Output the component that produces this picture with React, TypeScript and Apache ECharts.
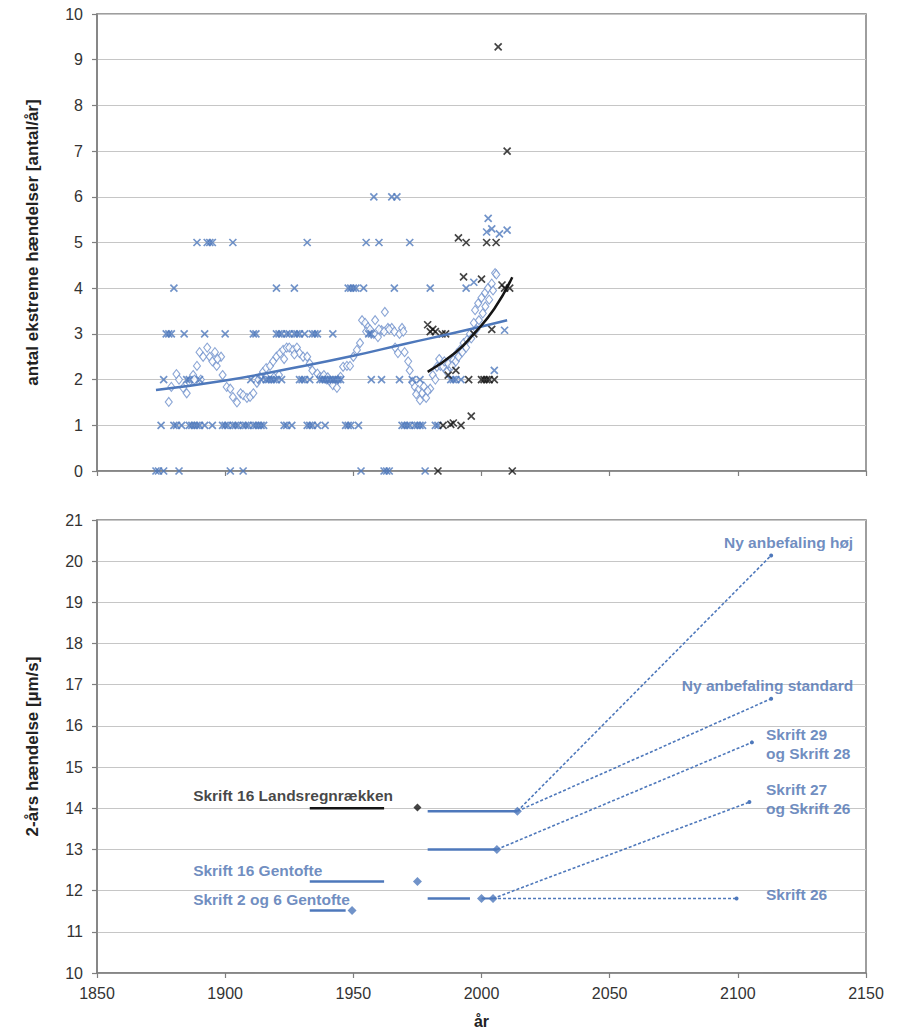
import React, { useEffect, useRef } from "react";
import * as echarts from "echarts";

// ---------- top panel data ----------
const blueEvents: [number, number][] = [
  [1873, 0], [1874, 0], [1876, 0], [1882, 0], [1902, 0], [1907, 0], [1953, 0], [1962, 0], [1963, 0], [1964, 0], [1978, 0],
  [1875, 1], [1880, 1], [1881, 1], [1883, 1], [1886, 1], [1887, 1], [1888, 1], [1889, 1], [1890, 1], [1892, 1], [1895, 1],
  [1899, 1], [1900, 1], [1901, 1], [1903, 1], [1904, 1], [1905, 1], [1907, 1], [1908, 1], [1909, 1], [1911, 1], [1912, 1],
  [1913, 1], [1914, 1], [1915, 1], [1923, 1], [1924, 1], [1926, 1], [1932, 1], [1933, 1], [1934, 1], [1936, 1], [1939, 1],
  [1947, 1], [1948, 1], [1949, 1], [1952, 1], [1969, 1], [1970, 1], [1971, 1], [1972, 1], [1974, 1], [1975, 1], [1976, 1],
  [1977, 1], [1982, 1], [1983, 1],
  [1876, 2], [1885, 2], [1886, 2], [1890, 2], [1910, 2], [1914, 2], [1916, 2], [1917, 2], [1918, 2], [1919, 2], [1920, 2],
  [1922, 2], [1929, 2], [1930, 2], [1931, 2], [1933, 2], [1937, 2], [1938, 2], [1939, 2], [1940, 2], [1941, 2], [1942, 2],
  [1943, 2], [1944, 2], [1945, 2], [1957, 2], [1961, 2], [1968, 2], [1973, 2], [1976, 2], [1988, 2], [1989, 2], [1990, 2],
  [1992, 2], [2005, 2.2],
  [1877, 3], [1878, 3], [1879, 3], [1884, 3], [1892, 3], [1900, 3], [1911, 3], [1912, 3], [1920, 3], [1921, 3], [1922, 3],
  [1924, 3], [1925, 3], [1927, 3], [1928, 3], [1929, 3], [1931, 3], [1934, 3], [1935, 3], [1936, 3], [1942, 3], [1956, 3],
  [1957, 3], [2009, 3.08],
  [1880, 4], [1920, 4], [1927, 4], [1948, 4], [1949, 4], [1950, 4], [1951, 4], [1954, 4], [1966, 4], [1980, 4], [1994, 4],
  [1997, 4.13],
  [1889, 5], [1893, 5], [1894, 5], [1895, 5], [1903, 5], [1932, 5], [1955, 5], [1960, 5], [1972, 5],
  [2002.6, 5.53], [2002, 5.23], [2004, 5.3], [2007, 5.19], [2010, 5.27],
  [1958, 6], [1965, 6], [1967, 6],
];

const blackEvents: [number, number][] = [
  [1983, 0], [2012, 0],
  [1985, 1.0], [1988, 1.02], [1989, 1.05], [1992, 1.0], [1996, 1.2],
  [1987, 2.1], [1990, 2.2], [1995, 2.0], [2000, 2.0], [2001, 2.0], [2002, 2.0], [2003, 2.0], [2005, 2.0],
  [1979, 3.2], [1980, 3.05], [1981, 3.1], [1982, 3.05], [1984.6, 3.0], [1986, 3.0], [1997, 3.0], [2004, 3.1],
  [1993, 4.25], [2000, 4.2], [2008, 4.07], [2009, 4.0], [2011, 4.0],
  [1991, 5.1], [1994, 5.0], [2002, 5.0], [2005.7, 5.0],
  [2010, 7.0], [2006.5, 9.28],
];

const smoothedPoints: [number, number][] = [
  [1878, 1.51], [1879, 1.84], [1881, 2.12], [1882, 2.0], [1883.6, 1.82], [1885, 1.7], [1886, 1.95], [1887.5, 2.1],
  [1889, 2.3], [1890, 2.6], [1891.4, 2.5], [1893, 2.7], [1894, 2.5], [1895, 2.4], [1896.7, 2.3], [1898.4, 2.5],
  [1899, 2.1], [1900.6, 1.84], [1902, 1.8], [1903, 1.62], [1904.6, 1.5], [1906, 1.7], [1907, 1.66], [1908.5, 1.6],
  [1909.7, 1.62], [1911, 1.7], [1912.4, 1.93], [1913.6, 2.06], [1914.8, 2.17], [1916, 2.25], [1917.5, 2.3],
  [1918.7, 2.4], [1920, 2.5], [1921.4, 2.58], [1922.6, 2.65], [1924, 2.7], [1925, 2.7], [1926.5, 2.65], [1928, 2.7],
  [1929, 2.58], [1930.4, 2.5], [1932, 2.5], [1933, 2.35], [1934, 2.2], [1936, 2.13], [1937, 2.06], [1938, 2.06],
  [1939.7, 2.0], [1941, 1.95], [1942, 1.88], [1943.6, 1.82], [1945, 2.06], [1946, 2.28], [1947.5, 2.3], [1948.7, 2.3],
  [1950, 2.5], [1951.4, 2.65], [1952.6, 2.8], [1953.4, 3.3], [1954.6, 3.24], [1955.7, 3.15], [1957, 3.0], [1958.5, 3.3],
  [1959.6, 2.93], [1961, 3.08], [1962.3, 3.48], [1963.5, 3.13], [1965, 3.13], [1966.3, 2.7], [1967.4, 2.58], [1969, 3.13],
  [1970, 2.6], [1971.4, 2.4], [1973, 1.95], [1974, 1.84], [1975.3, 1.77], [1976.8, 1.7], [1978.4, 1.6], [1980, 1.8],
  [1981, 2.1], [1982.6, 2.28], [1984, 2.3], [1985, 2.28], [1986.5, 2.17], [1987.7, 2.28], [1989, 2.43], [1990.5, 2.58],
  [1991.6, 2.65], [1993, 2.8], [1994.4, 2.87], [1995.5, 3.0], [1997, 3.24], [1997.5, 3.52], [1998.7, 3.67], [2000, 3.79],
  [2001.4, 3.9], [2002.5, 4.0], [2004, 4.1], [2005.3, 4.33],
];

const smoothedPoints2: [number, number][] = [
  [1888, 2.0], [1890.5, 2.0], [1896, 2.6], [1897, 2.45], [1913, 2.0], [1916, 2.05], [1919, 2.05], [1921, 2.1],
  [1923, 2.45], [1927, 2.55], [1938.5, 2.1], [1940, 2.05], [1944, 2.0], [1955, 3.05], [1956.5, 3.1], [1958, 3.0],
  [1960, 3.1], [1962, 3.05], [1964, 3.1], [1966, 3.05], [1968, 3.0], [1969.5, 3.05], [1972, 2.2], [1974.5, 1.68],
  [1976, 1.55], [1977.5, 1.85], [1979, 1.75], [1982, 2.0], [1983.5, 2.45], [1985.5, 2.4], [1987, 2.35], [1988.5, 2.3],
  [1990, 2.4], [1991, 2.5], [1992.5, 2.6], [1994, 2.7], [1996, 2.9], [1998, 3.1], [1999, 3.3], [2000.5, 3.45],
  [2001.5, 3.6], [2003, 3.75], [2004.5, 3.95], [2005.8, 4.3],
];

const blueTrend: [number, number][] = [
  [1873, 1.77], [1900, 1.98], [1929, 2.28], [1950, 2.52], [1970, 2.78], [1990, 3.03], [2010, 3.3],
];
const blackTrend: [number, number][] = [
  [1979, 2.17], [1990, 2.6], [1997, 3.0], [2005, 3.55], [2012, 4.24],
];

// ---------- bottom panel data ----------
const landsSegment: [number, number][] = [[1933, 14.0], [1962, 14.0]];
const landsPoint: [number, number][] = [[1975, 14.02]];
const gentofte16Segment: [number, number][] = [[1933, 12.22], [1962, 12.22]];
const gentofte16Point: [number, number][] = [[1975, 12.22]];
const gentofte26Segment: [number, number][] = [[1933, 11.52], [1947, 11.52]];
const gentofte26Point: [number, number][] = [[1949.5, 11.52]];
const recentHighSegment: [number, number][] = [[1979, 13.93], [2014, 13.93]];
const recentMidSegment: [number, number][] = [[1979, 13.0], [2006, 13.0]];
const recentLowSegment: [number, number][] = [[1979, 11.81], [1995.5, 11.81]];
const recentLowPoints: [number, number][] = [[2000, 11.81], [2004.5, 11.81]];
const recentPoints: [number, number][] = [[2014, 13.93], [2006, 13.0]];

const projHigh: [number, number][] = [[2014, 13.93], [2113, 20.14]];
const projStandard: [number, number][] = [[2014, 13.93], [2113, 16.66]];
const proj29: [number, number][] = [[2006, 13.0], [2105.5, 15.6]];
const proj27: [number, number][] = [[2004.5, 11.81], [2104.5, 14.15]];
const proj26: [number, number][] = [[2004.5, 11.81], [2099.5, 11.81]];

const blueLabels = [
  "Ny anbefaling høj",
  "Ny anbefaling standard",
  "Skrift 29\nog Skrift 28",
  "Skrift 27\nog Skrift 26",
  "Skrift 26",
  "Skrift 16 Gentofte",
  "Skrift 2 og 6 Gentofte",
];
const blueLabelAnchors: [number, number][] = [
  [2145, 20.45], [2145, 16.97], [2111, 15.56], [2111, 14.22], [2111, 11.9], [1887.5, 12.48], [1887.5, 11.78],
];
const blueLabelAlign = ["right", "right", "left", "left", "left", "left", "left"];
const blackLabels = ["Skrift 16 Landsregnrækken"];
const blackLabelAnchors: [number, number][] = [[1887.5, 14.32]];

const xTicks = { min: 1850, max: 2150, interval: 50 };

const BLUE = "#4e78bb";
const BLUE_DARK = "#4a6fb0";
const BLACK = "#151515";
const AXIS = "#7f7f7f";
const GRID = "#c6c6c6";
const FONT = "'Liberation Sans', Arial, Helvetica, sans-serif";
const XMARK = "path://M0,0L10,10M10,0L0,10";

export default function App() {
  const ref = useRef<HTMLDivElement>(null);
  useEffect(() => {
    document.body.style.margin = "0";
    const chart = echarts.init(ref.current!, null, { renderer: "svg" });

    const seg = (data: [number, number][], color: string, width = 2.5) => ({
      type: "line",
      xAxisIndex: 1,
      yAxisIndex: 1,
      data,
      showSymbol: false,
      symbol: "none",
      lineStyle: { color, width },
      silent: true,
      z: 3,
    });
    const pts = (data: [number, number][], color: string, size = 9) => ({
      type: "scatter",
      xAxisIndex: 1,
      yAxisIndex: 1,
      data,
      symbol: "diamond",
      symbolSize: size,
      itemStyle: { color },
      z: 4,
    });
    const proj = (data: [number, number][]) => ({
      type: "line",
      xAxisIndex: 1,
      yAxisIndex: 1,
      data: data.map((d, i) => ({
        value: d,
        symbol: i === data.length - 1 ? "circle" : "none",
        symbolSize: 4,
      })),
      showSymbol: true,
      itemStyle: { color: BLUE },
      lineStyle: { color: BLUE, width: 1.6, type: [3, 2] },
      z: 2,
    });
    const labels = (names: string[], anchors: [number, number][], aligns: string[], color: string) => ({
      type: "scatter",
      xAxisIndex: 1,
      yAxisIndex: 1,
      symbolSize: 0,
      data: anchors.map((a, i) => ({
        value: a,
        label: {
          show: true,
          position: "inside",
          align: aligns[i],
          verticalAlign: "middle",
          formatter: names[i],
          color,
          fontFamily: FONT,
          fontWeight: "bold",
          fontSize: 15.5,
          lineHeight: 19,
        },
      })),
      z: 5,
    });

    const axisCommon = {
      axisLine: { show: true, lineStyle: { color: AXIS, width: 1.5 } },
      axisTick: { show: true, length: 5, lineStyle: { color: AXIS, width: 1.2 } },
    };
    const nameStyle = { fontSize: 17, fontWeight: "bold", color: "#222", fontFamily: FONT };

    chart.setOption({
      animation: false,
      backgroundColor: "#ffffff",
      textStyle: { fontFamily: FONT },
      grid: [
        { left: 97, top: 14, width: 769, height: 457, show: true, borderColor: AXIS, borderWidth: 1.5 },
        { left: 97, top: 520, width: 769, height: 456, show: true, borderColor: AXIS, borderWidth: 1.5 },
      ],
      xAxis: [
        {
          type: "value", gridIndex: 0, ...xTicks, ...axisCommon,
          axisLabel: { show: false }, splitLine: { show: false },
        },
        {
          type: "value", gridIndex: 1, ...xTicks, ...axisCommon,
          splitLine: { show: false },
          axisLabel: { fontSize: 16, color: "#333", margin: 12, fontFamily: FONT, formatter: (v: number) => String(v) },
          name: "år", nameLocation: "middle", nameGap: 40,
          nameTextStyle: { ...nameStyle, fontSize: 16 },
        },
      ],
      yAxis: [
        {
          type: "value", gridIndex: 0, min: 0, max: 10, interval: 1, ...axisCommon,
          splitLine: { show: true, lineStyle: { color: GRID, width: 1.2 } },
          axisLabel: { fontSize: 16, color: "#333", margin: 14, fontFamily: FONT },
          name: "antal ekstreme hændelser [antal/år]", nameLocation: "middle", nameGap: 56, nameRotate: 90,
          nameTextStyle: nameStyle,
        },
        {
          type: "value", gridIndex: 1, min: 10, max: 21, interval: 1, ...axisCommon,
          splitLine: { show: true, lineStyle: { color: GRID, width: 1.2 } },
          axisLabel: { fontSize: 16, color: "#333", margin: 14, fontFamily: FONT },
          name: "2-års hændelse [µm/s]", nameLocation: "middle", nameGap: 56, nameRotate: 90,
          nameTextStyle: nameStyle,
        },
      ],
      series: [
        {
          type: "scatter", xAxisIndex: 0, yAxisIndex: 0, data: smoothedPoints,
          symbol: "diamond", symbolSize: [7, 9],
          itemStyle: { color: "#ffffff", borderColor: "#6d8fcb", borderWidth: 1.1 }, z: 2,
        },
        {
          type: "scatter", xAxisIndex: 0, yAxisIndex: 0, data: smoothedPoints2,
          symbol: "diamond", symbolSize: [7, 9],
          itemStyle: { color: "#ffffff", borderColor: "#6d8fcb", borderWidth: 1.1 }, z: 2,
        },
        {
          type: "scatter", xAxisIndex: 0, yAxisIndex: 0, data: blueEvents,
          symbol: XMARK, symbolSize: 7,
          itemStyle: { color: "transparent", borderColor: BLUE, borderWidth: 1.7 }, z: 3,
        },
        {
          type: "scatter", xAxisIndex: 0, yAxisIndex: 0, data: blackEvents,
          symbol: XMARK, symbolSize: 7,
          itemStyle: { color: "transparent", borderColor: BLACK, borderWidth: 1.7 }, z: 4,
        },
        {
          type: "line", xAxisIndex: 0, yAxisIndex: 0, data: blueTrend, smooth: true,
          symbol: "none", lineStyle: { color: BLUE, width: 2.5 }, z: 5,
        },
        {
          type: "line", xAxisIndex: 0, yAxisIndex: 0, data: blackTrend, smooth: true,
          symbol: "none", lineStyle: { color: BLACK, width: 2.5 }, z: 6,
        },
        // bottom panel
        proj(projHigh),
        proj(projStandard),
        proj(proj29),
        proj(proj27),
        proj(proj26),
        seg(landsSegment, BLACK),
        pts(landsPoint, BLACK, 8),
        seg(gentofte16Segment, BLUE),
        pts(gentofte16Point, BLUE),
        seg(gentofte26Segment, BLUE),
        pts(gentofte26Point, BLUE),
        seg(recentHighSegment, BLUE),
        seg(recentMidSegment, BLUE),
        seg(recentLowSegment, BLUE),
        seg(recentLowPoints, BLUE, 2),
        pts(recentLowPoints, BLUE),
        pts(recentPoints, BLUE),
        labels(blueLabels, blueLabelAnchors, blueLabelAlign, BLUE_DARK),
        labels(blackLabels, blackLabelAnchors, ["left"], BLACK),
      ],
    });
    return () => chart.dispose();
  }, []);
  return (
    <div
      ref={ref}
      style={{ position: "absolute", left: 0, top: 0, width: 903, height: 1030, background: "#fff" }}
    />
  );
}
